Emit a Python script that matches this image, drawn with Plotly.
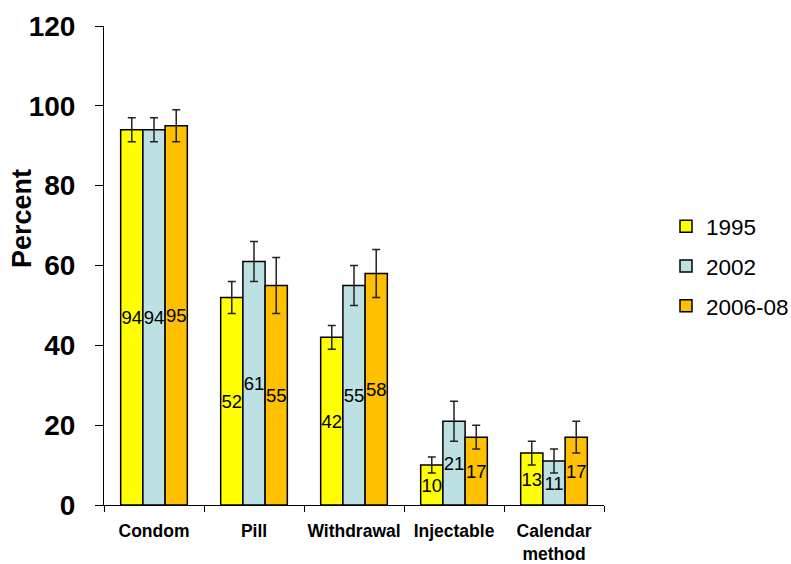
import plotly.graph_objects as go

categories = ["Condom", "Pill", "Withdrawal", "Injectable", "Calendar<br>method"]
series_names = ["1995", "2002", "2006-08"]
values_1995 = [94, 52, 42, 10, 13]
values_2002 = [94, 61, 55, 21, 11]
values_2006 = [95, 55, 58, 17, 17]
err_1995 = [3, 4, 3, 2, 3]
err_2002 = [3, 5, 5, 5, 3]
err_2006 = [4, 7, 6, 3, 4]
colors = ["#FFFF00", "#BDE0E3", "#FFC000"]
y_ticks = [0, 20, 40, 60, 80, 100, 120]

FONT = "Liberation Sans, Arial, sans-serif"

fig = go.Figure()
for name, vals, errs, col in zip(series_names, [values_1995, values_2002, values_2006],
                                 [err_1995, err_2002, err_2006], colors):
    fig.add_trace(go.Bar(
        name=name, x=categories, y=vals,
        marker=dict(color=col, line=dict(color="black", width=1.5)),
        error_y=dict(type="data", array=errs, visible=True, color="#222222",
                     thickness=1.5, width=4),
        text=vals, texttemplate="%{text}", textposition="inside",
        insidetextanchor="middle", constraintext="none", textangle=0,
        textfont=dict(family=FONT, size=18.5, color="black"),
        legendgroup=name,
    ))

fig.update_layout(
    width=791, height=564,
    margin=dict(l=104, r=187, t=26, b=59, autoexpand=False),
    paper_bgcolor="white", plot_bgcolor="white",
    barmode="group", bargap=1/3, bargroupgap=0,
    font=dict(family=FONT, color="black"),
    showlegend=True,
    legend=dict(x=1.124, xanchor="left", y=0.626, yanchor="top",
                font=dict(family=FONT, size=22.5, color="black"),
                tracegroupgap=7.5, bgcolor="rgba(0,0,0,0)"),
    annotations=[dict(text="<b>Percent</b>", textangle=-90, xref="paper", yref="paper",
                      x=-0.164, y=0.597, xanchor="center", yanchor="middle",
                      showarrow=False, font=dict(family=FONT, size=27, color="black"))],
)
fig.update_yaxes(range=[0, 120], tickvals=y_ticks, ticktext=[f"<b>{v}</b>" for v in y_ticks],
                 showline=True, linecolor="black", linewidth=1, ticks="outside",
                 ticklen=8, tickcolor="black", showgrid=False, zeroline=False, automargin=False,
                 tickfont=dict(family=FONT, size=28, color="black"), ticklabelstandoff=14)
fig.update_xaxes(showline=True, linecolor="black", linewidth=1, ticks="outside",
                 tickson="boundaries", ticklen=6, tickcolor="black", showgrid=False,
                 tickangle=0, automargin=False, ticklabelstandoff=10,
                 tickvals=categories, ticktext=[f"<b>{c.replace('<br>', '</b><br><b>')}</b>" for c in categories],
                 tickfont=dict(family=FONT, size=17.5, color="black"))

fig.write_html("out.html", config={"displayModeBar": False},
               post_script="document.body.style.margin='0';document.body.style.overflow='hidden';")
